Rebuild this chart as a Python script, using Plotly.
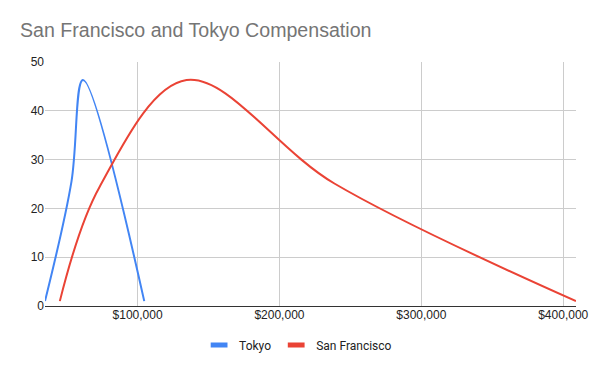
import plotly.graph_objects as go

tokyo_x = [34750, 53400, 61500, 104700]
tokyo_y = [1, 25.5, 46.3, 1]
sf_x = [45200, 73200, 134500, 238700, 409000]
sf_y = [1, 24.4, 46.3, 25.1, 1]
x_ticks = [100000, 200000, 300000, 400000]
x_tick_labels = ["$100,000", "$200,000", "$300,000", "$400,000"]
y_ticks = [0, 10, 20, 30, 40, 50]
series_names = ["Tokyo", "San Francisco"]
series_colors = ["#4285F4", "#EA4335"]

fig = go.Figure()
for name, xs, ys, col in zip(series_names, [tokyo_x, sf_x], [tokyo_y, sf_y], series_colors):
    fig.add_trace(go.Scatter(x=xs, y=ys, mode="lines", name=name, showlegend=False,
                             line=dict(color=col, width=2, shape="spline", smoothing=1)))
# legend-only entries with short bar swatches
for name, col in zip(series_names, series_colors):
    fig.add_trace(go.Scatter(x=[None], y=[None], mode="markers", name=name,
                             marker=dict(symbol="line-ew", size=12,
                                         line=dict(color=col, width=5))))

fig.update_layout(
    width=600, height=371,
    margin=dict(l=45, r=20, t=62, b=65),
    paper_bgcolor="white", plot_bgcolor="white",
    font=dict(family="Arial, Liberation Sans, sans-serif", size=12, color="#222222"),
    title=dict(text="San Francisco and Tokyo Compensation", x=20/600, xanchor="left",
               y=1 - 30.5/371, yanchor="middle",
               font=dict(size=19.6, color="#757575", family="Arial, Liberation Sans, sans-serif")),
    legend=dict(orientation="h", x=(300 - 45) / 535, xanchor="center", y=-0.16, yanchor="middle",
                font=dict(size=12, color="#222222", family="Roboto, Arial, sans-serif")),
    showlegend=True,
)
fig.update_xaxes(range=[min(tokyo_x), max(sf_x)], tickvals=x_ticks, ticktext=x_tick_labels,
                 showgrid=True, gridcolor="#cccccc", gridwidth=1, zeroline=False,
                 showline=False, ticks="", tickfont=dict(size=12, color="#222222"))
fig.update_yaxes(range=[0, 50], tickvals=y_ticks, showgrid=True, gridcolor="#cccccc",
                 zeroline=True, zerolinecolor="#333333", zerolinewidth=1,
                 showline=False, ticks="", tickfont=dict(size=12, color="#222222"))

fig.write_html("out.html", config={"displayModeBar": False},
               post_script="document.body.style.margin='0';")
